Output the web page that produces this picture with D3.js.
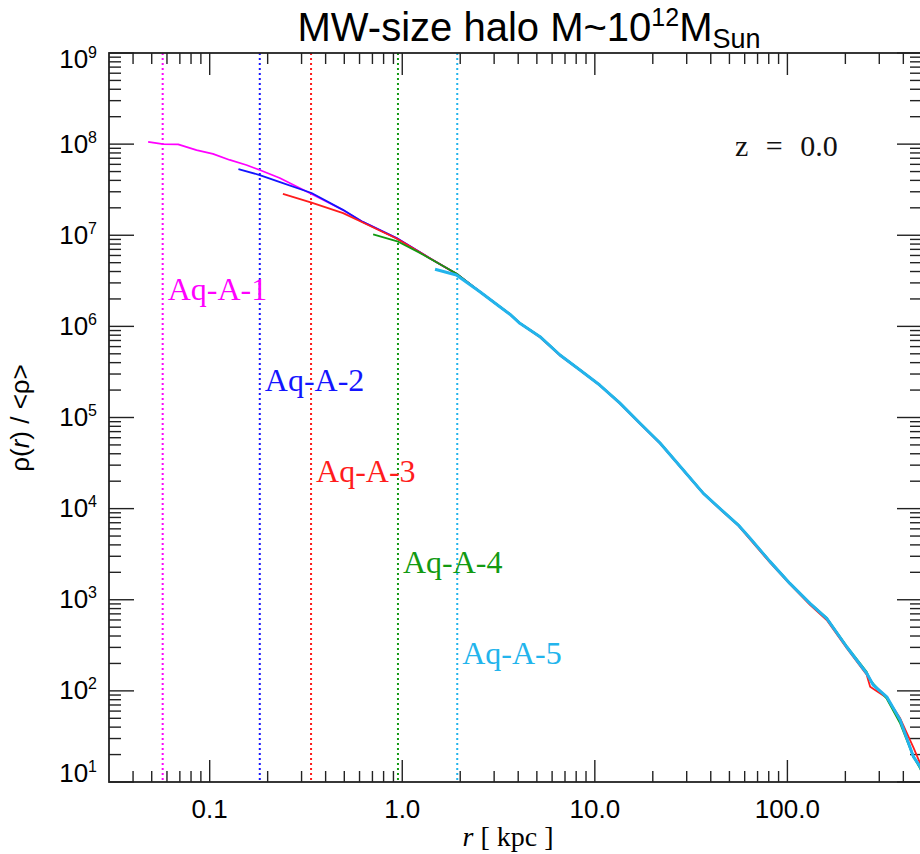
<!DOCTYPE html>
<html lang="en">
<head>
<meta charset="utf-8">
<title>MW-size halo density profile</title>
<script src="https://cdn.jsdelivr.net/npm/d3@7"></script>
<style>
  body { margin: 0; background: #fff; }
  .tick line { stroke: #222; stroke-width: 1.4; }
  .curve { fill: none; stroke-linejoin: round; }
</style>
</head>
<body>
<script>
// sizes
var w = 920, h = 854;
var pLeft = 109, pRight = 922, pTop = 53, pBottom = 782;

// series names, colours, resolution limits (kpc) and label heights
var names = ["Aq-A-1", "Aq-A-2", "Aq-A-3", "Aq-A-4", "Aq-A-5"];
var colors = ["#ff00ff", "#1414ff", "#ff1c1c", "#129a12", "#22b4ec"];
var resLimit = [0.057, 0.182, 0.336, 0.95, 1.93];
var labelRho = [1.95e6, 1.95e5, 1.95e4, 1.95e3, 1.95e2];

// radius (kpc) and density rho(r)/<rho>
var a1r   = [0.0479, 0.0573, 0.0686, 0.0855, 0.104, 0.127, 0.155, 0.182, 0.231, 0.338, 0.492, 0.624, 0.934, 1.39, 1.91,
             2.53, 3.21, 3.62, 4.08, 5.19, 6.59, 8.37, 10.6, 13.5, 17.1, 21.8, 28.8, 36.6, 46.5, 55.6, 64.0, 81.3, 103, 131, 160, 203, 258, 279, 328, 385, 451, 489, 551];
var a1rho = [1.06e8, 1.00e8, 9.95e7, 8.6e7, 7.8e7, 6.7e7, 5.9e7, 5.2e7, 4.25e7, 2.84e7, 1.89e7, 1.40e7, 9.3e6, 5.6e6, 3.78e6,
             2.40e6, 1.64e6, 1.36e6, 1.08e6, 7.71e5, 4.85e5, 3.32e5, 2.27e5, 1.44e5, 8.7e4, 5.25e4, 2.65e4, 1.47e4, 9.25e3, 6.6e3, 4.72e3, 2.62e3, 1.51e3, 914, 625, 305, 156, 116, 86, 48, 19, 14.7, 8.2];

var a2r   = [0.141, 0.182, 0.240, 0.338, 0.492, 0.624, 0.934, 1.39, 1.91,
             2.53, 3.21, 3.62, 4.08, 5.19, 6.59, 8.37, 10.6, 13.5, 17.1, 21.8, 28.8, 36.6, 46.5, 55.6, 64.0, 81.3, 103, 131, 160, 203, 258, 279, 328, 385, 451, 489, 551];
var a2rho = [5.33e7, 4.58e7, 3.74e7, 2.91e7, 1.90e7, 1.40e7, 9.3e6, 5.6e6, 3.78e6,
             2.40e6, 1.64e6, 1.36e6, 1.08e6, 7.71e5, 4.85e5, 3.32e5, 2.27e5, 1.44e5, 8.7e4, 5.25e4, 2.65e4, 1.47e4, 9.25e3, 6.6e3, 4.72e3, 2.62e3, 1.51e3, 914, 625, 305, 156, 116, 86, 48, 19, 14.7, 8.2];

var a3r   = [0.240, 0.338, 0.493, 0.624, 0.934, 1.39, 1.91,
             2.53, 3.21, 3.62, 4.08, 5.19, 6.59, 8.37, 10.6, 13.5, 17.1, 21.8, 28.8, 36.6, 46.5, 55.6, 64.0, 81.3, 103, 131, 160, 203, 258, 269, 328, 385, 451, 489, 551];
var a3rho = [2.84e7, 2.28e7, 1.75e7, 1.38e7, 9.2e6, 5.6e6, 3.78e6,
             2.40e6, 1.64e6, 1.36e6, 1.08e6, 7.6e5, 4.8e5, 3.3e5, 2.25e5, 1.42e5, 8.6e4, 5.2e4, 2.62e4, 1.46e4, 9.1e3, 6.5e3, 4.6e3, 2.55e3, 1.48e3, 880, 600, 295, 150, 111, 84, 50, 24, 16, 9];

var a4r   = [0.706, 0.953, 1.235, 1.39, 1.91,
             2.53, 3.21, 3.62, 4.08, 5.19, 6.59, 8.37, 10.6, 13.5, 17.1, 21.8, 28.8, 36.6, 46.5, 55.6, 64.0, 81.3, 103, 131, 160, 203, 258, 269, 328, 385, 451, 489, 551];
var a4rho = [1.02e7, 8.5e6, 6.4e6, 5.55e6, 3.8e6,
             2.40e6, 1.65e6, 1.37e6, 1.09e6, 7.75e5, 4.9e5, 3.35e5, 2.28e5, 1.45e5, 8.8e4, 5.3e4, 2.67e4, 1.48e4, 9.3e3, 6.65e3, 4.75e3, 2.64e3, 1.52e3, 920, 630, 310, 162, 131, 82, 44, 19, 14, 8];

var a5r   = [1.48, 1.91,
             2.53, 3.21, 3.62, 4.08, 5.19, 6.59, 8.37, 10.6, 13.5, 17.1, 21.8, 28.8, 36.6, 46.5, 55.6, 64.0, 81.3, 103, 131, 160, 203, 258, 279, 328, 385, 451, 489, 551];
var a5rho = [4.23e6, 3.66e6,
             2.40e6, 1.64e6, 1.36e6, 1.08e6, 7.71e5, 4.85e5, 3.32e5, 2.27e5, 1.44e5, 8.7e4, 5.25e4, 2.65e4, 1.47e4, 9.25e3, 6.6e3, 4.72e3, 2.62e3, 1.51e3, 914, 625, 305, 156, 116, 86, 48, 19, 14.7, 8.2];

var seriesR = [a1r, a2r, a3r, a4r, a5r];
var seriesRho = [a1rho, a2rho, a3rho, a4rho, a5rho];

// axis labels
var xMajor = [0.1, 1, 10, 100];
var xMajorLabels = ["0.1", "1.0", "10.0", "100.0"];
var yMajor = [1e1, 1e2, 1e3, 1e4, 1e5, 1e6, 1e7, 1e8, 1e9];

var x = d3.scaleLog().domain([0.03, 500]).range([pLeft, pRight]);
var y = d3.scaleLog().domain([10, 1e9]).range([pBottom, pTop]);

var svg = d3.select("body").append("svg")
  .attr("width", w)
  .attr("height", h)
  .style("font-family", "'Liberation Sans', Arial, sans-serif");

svg.append("clipPath").attr("id", "plot")
  .append("rect").attr("x", pLeft).attr("y", pTop)
  .attr("width", pRight - pLeft).attr("height", pBottom - pTop);

// ticks: major and minor, on all four sides, pointing inward
var isMajor = function(v) { return Math.abs(Math.log10(v) - Math.round(Math.log10(v))) < 1e-6; };
var xTicks = x.ticks().filter(function(v) { return v > 0.031 && v < 499; });
var yTicks = y.ticks();

var ticks = svg.append("g").attr("class", "tick");
ticks.selectAll(".xb").data(xTicks).enter().append("line")
  .attr("x1", function(d) { return x(d); }).attr("x2", function(d) { return x(d); })
  .attr("y1", pBottom).attr("y2", function(d) { return pBottom - (isMajor(d) ? 22 : 11); });
ticks.selectAll(".xt").data(xTicks).enter().append("line")
  .attr("x1", function(d) { return x(d); }).attr("x2", function(d) { return x(d); })
  .attr("y1", pTop).attr("y2", function(d) { return pTop + (isMajor(d) ? 22 : 11); });
ticks.selectAll(".yl").data(yTicks).enter().append("line")
  .attr("y1", function(d) { return y(d); }).attr("y2", function(d) { return y(d); })
  .attr("x1", pLeft).attr("x2", function(d) { return pLeft + (isMajor(d) ? 25 : 12); });
ticks.selectAll(".yr").data(yTicks).enter().append("line")
  .attr("y1", function(d) { return y(d); }).attr("y2", function(d) { return y(d); })
  .attr("x1", pRight).attr("x2", function(d) { return pRight - (isMajor(d) ? 25 : 12); });

// dotted resolution lines
svg.selectAll(".res").data(resLimit).enter().append("line")
  .attr("x1", function(d) { return x(d); }).attr("x2", function(d) { return x(d); })
  .attr("y1", pTop).attr("y2", pBottom)
  .attr("stroke", function(d, i) { return colors[i]; })
  .attr("stroke-width", 2)
  .attr("stroke-dasharray", "2,3");

// density curves
var line = d3.line()
  .x(function(d) { return x(d[0]); })
  .y(function(d) { return y(d[1]); });

svg.append("g").attr("clip-path", "url(#plot)")
  .selectAll("path").data(seriesR).enter().append("path")
  .attr("class", "curve")
  .attr("stroke", function(d, i) { return colors[i]; })
  .attr("stroke-width", function(d, i) { return i == 4 ? 3 : 1.8; })
  .attr("d", function(d, i) { return line(d.map(function(r, j) { return [r, seriesRho[i][j]]; })); });

// frame
svg.append("rect")
  .attr("x", pLeft).attr("y", pTop)
  .attr("width", pRight - pLeft).attr("height", pBottom - pTop)
  .attr("fill", "none").attr("stroke", "#222").attr("stroke-width", 1.8);

// series labels
svg.selectAll(".lab").data(names).enter().append("text")
  .attr("x", function(d, i) { return x(resLimit[i]) + 5; })
  .attr("y", function(d, i) { return y(labelRho[i]); })
  .attr("fill", function(d, i) { return colors[i]; })
  .style("font-family", "'Liberation Serif', 'Times New Roman', serif")
  .style("font-size", "32px")
  .text(function(d) { return d; });

svg.append("text")
  .attr("x", 735).attr("y", 156)
  .style("font-family", "'Liberation Serif', 'Times New Roman', serif")
  .style("font-size", "30px")
  .style("word-spacing", "10px")
  .attr("fill", "#111")
  .text("z = 0.0");

// x tick labels
svg.selectAll(".xlab").data(xMajor).enter().append("text")
  .attr("x", function(d) { return x(d); })
  .attr("y", 818)
  .attr("text-anchor", "middle")
  .style("font-size", "26px")
  .text(function(d, i) { return xMajorLabels[i]; });

// y tick labels 10^n
var ylab = svg.selectAll(".ylab").data(yMajor).enter().append("text")
  .attr("x", 97)
  .attr("y", function(d) {
    var e = Math.round(Math.log10(d));
    return y(d) + (e == 9 ? 15 : e == 1 ? 0 : 8.5);
  })
  .attr("text-anchor", "end")
  .style("font-size", "26px");
ylab.append("tspan").text("10");
ylab.append("tspan").attr("dy", -10).style("font-size", "16px")
  .text(function(d) { return Math.round(Math.log10(d)); });

// axis titles
var xt = svg.append("text")
  .attr("x", 508).attr("y", 846)
  .attr("text-anchor", "middle")
  .style("font-family", "'Liberation Serif', 'Times New Roman', serif")
  .style("font-size", "28px");
xt.append("tspan").style("font-style", "italic").text("r");
xt.append("tspan").text(" [ kpc ]");

var yt = svg.append("text")
  .attr("transform", "translate(29,418) rotate(-90)")
  .attr("text-anchor", "middle")
  .style("font-size", "26px");
yt.append("tspan").text("\u03c1(");
yt.append("tspan").style("font-style", "italic").text("r");
yt.append("tspan").text(") / <\u03c1>");

// title
var title = svg.append("text")
  .attr("x", 529).attr("y", 41)
  .attr("text-anchor", "middle")
  .style("font-size", "40px");
title.append("tspan").text("MW-size halo M~10");
title.append("tspan").attr("dy", -15).style("font-size", "25px").text("12");
title.append("tspan").attr("dy", 15).text("M");
title.append("tspan").attr("dy", 7).style("font-size", "27px").text("Sun");
</script>
</body>
</html>
